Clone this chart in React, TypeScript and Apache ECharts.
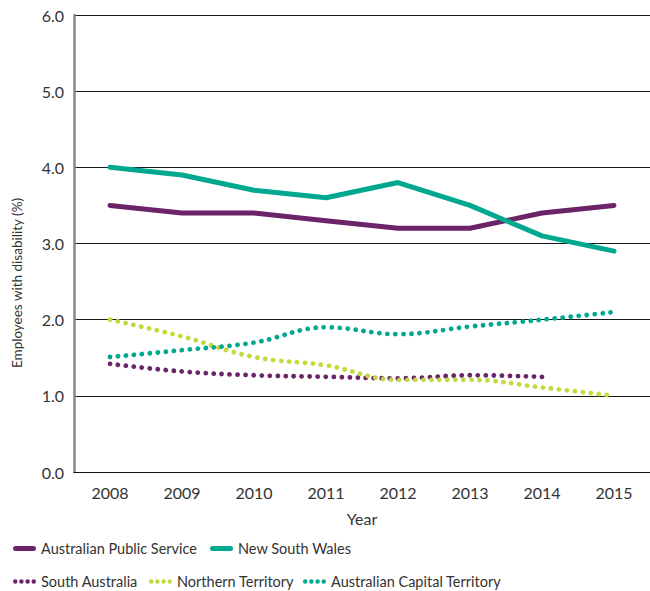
import React, { useEffect, useRef } from "react";
import * as echarts from "echarts";

const years = ["2008", "2009", "2010", "2011", "2012", "2013", "2014", "2015"];
const aps = [3.5, 3.4, 3.4, 3.3, 3.2, 3.2, 3.4, 3.5];
const nsw = [4.0, 3.9, 3.7, 3.6, 3.8, 3.5, 3.1, 2.9];
const sa = [1.42, 1.32, 1.27, 1.25, 1.23, 1.27, 1.25, null];
const nt = [2.0, 1.78, 1.51, 1.4, 1.21, 1.21, 1.11, 1.0];
const act = [1.51, 1.6, 1.7, 1.9, 1.81, 1.91, 2.0, 2.1];

const PURPLE = "#6b2468";
const TEAL = "#00a88f";
const LIME = "#c5d93b";
const FONT = "Lato";
const TXT = "#333";

const SOLID_ICON =
  "path://M2.5,0H20.5A2.5,2.5,0,0,1,20.5,5H2.5A2.5,2.5,0,0,1,2.5,0Z";
const dot = (cx: number, r: number) =>
  `M${cx - r},${r}A${r},${r},0,1,1,${cx + r},${r}A${r},${r},0,1,1,${cx - r},${r}Z`;
const DOT_ICON =
  "path://" + [2.25, 8.4, 14.6, 20.75].map((c) => dot(c, 2.25)).join("");

export default function App() {
  const ref = useRef<HTMLDivElement>(null);
  useEffect(() => {
    const chart = echarts.init(ref.current!, undefined, { renderer: "svg" });
    const solid = (name: string, data: any[], color: string) => ({
      name,
      type: "line",
      data,
      symbol: "none",
      smooth: false,
      color,
      lineStyle: { color, width: 5, cap: "round", join: "round" },
    });
    const dotted = (name: string, data: any[], color: string) => ({
      name,
      type: "line",
      data,
      symbol: "none",
      smooth: 0.4,
      color,
      lineStyle: { color, width: 4.8, type: [0.01, 8], cap: "round" },
    });
    const legendItem = (name: string, left: number, top: number, icon: string, h: number) => ({
      data: [{ name, icon }],
      left,
      top,
      padding: 0,
      itemWidth: 23,
      itemHeight: h,
      itemStyle: { borderWidth: 0 },
      textStyle: { fontSize: 14.5, color: TXT, fontFamily: FONT },
    });
    chart.setOption({
      animation: false,
      textStyle: { fontFamily: FONT },
      grid: { left: 74, top: 15, width: 579, height: 457 },
      xAxis: {
        type: "category",
        data: years,
        boundaryGap: true,
        axisLine: { lineStyle: { color: "#111", width: 1 } },
        axisTick: { length: 10, lineStyle: { color: "#333", width: 1.5 } },
        axisLabel: { margin: 12, fontSize: 16, color: TXT, fontFamily: FONT },
        name: "Year",
        nameLocation: "middle",
        nameGap: 38,
        nameTextStyle: { fontSize: 16, color: TXT, fontFamily: FONT },
      },
      yAxis: {
        type: "value",
        min: 0,
        max: 6,
        interval: 1,
        axisLine: { show: true, lineStyle: { color: "#888", width: 2.5 } },
        axisTick: { show: false },
        axisLabel: {
          margin: 10,
          fontSize: 16,
          color: TXT,
          fontFamily: FONT,
          formatter: (v: number) => v.toFixed(1),
        },
        splitLine: { show: true, lineStyle: { color: "#1a1a1a", width: 1 } },
      },
      graphic: [
        {
          type: "text",
          x: 17,
          y: 283,
          rotation: Math.PI / 2,
          style: {
            text: "Employees with disability (%)",
            fontSize: 13.5,
            fontFamily: FONT,
            fill: TXT,
            align: "center",
            verticalAlign: "middle",
          },
        },
      ],
      legend: [
        legendItem("Australian Public Service", 13, 541, SOLID_ICON, 5),
        legendItem("New South Wales", 210, 541, SOLID_ICON, 5),
        legendItem("South Australia", 13, 574, DOT_ICON, 4.5),
        legendItem("Northern Territory", 149, 574, DOT_ICON, 4.5),
        legendItem("Australian Capital Territory", 303, 574, DOT_ICON, 4.5),
      ],
      series: [
        solid("Australian Public Service", aps, PURPLE),
        solid("New South Wales", nsw, TEAL),
        dotted("South Australia", sa, PURPLE),
        dotted("Northern Territory", nt, LIME),
        dotted("Australian Capital Territory", act, TEAL),
      ],
    });
    return () => chart.dispose();
  }, []);
  return (
    <div
      ref={ref}
      style={{ position: "absolute", left: 0, top: 0, width: 650, height: 591 }}
    />
  );
}
